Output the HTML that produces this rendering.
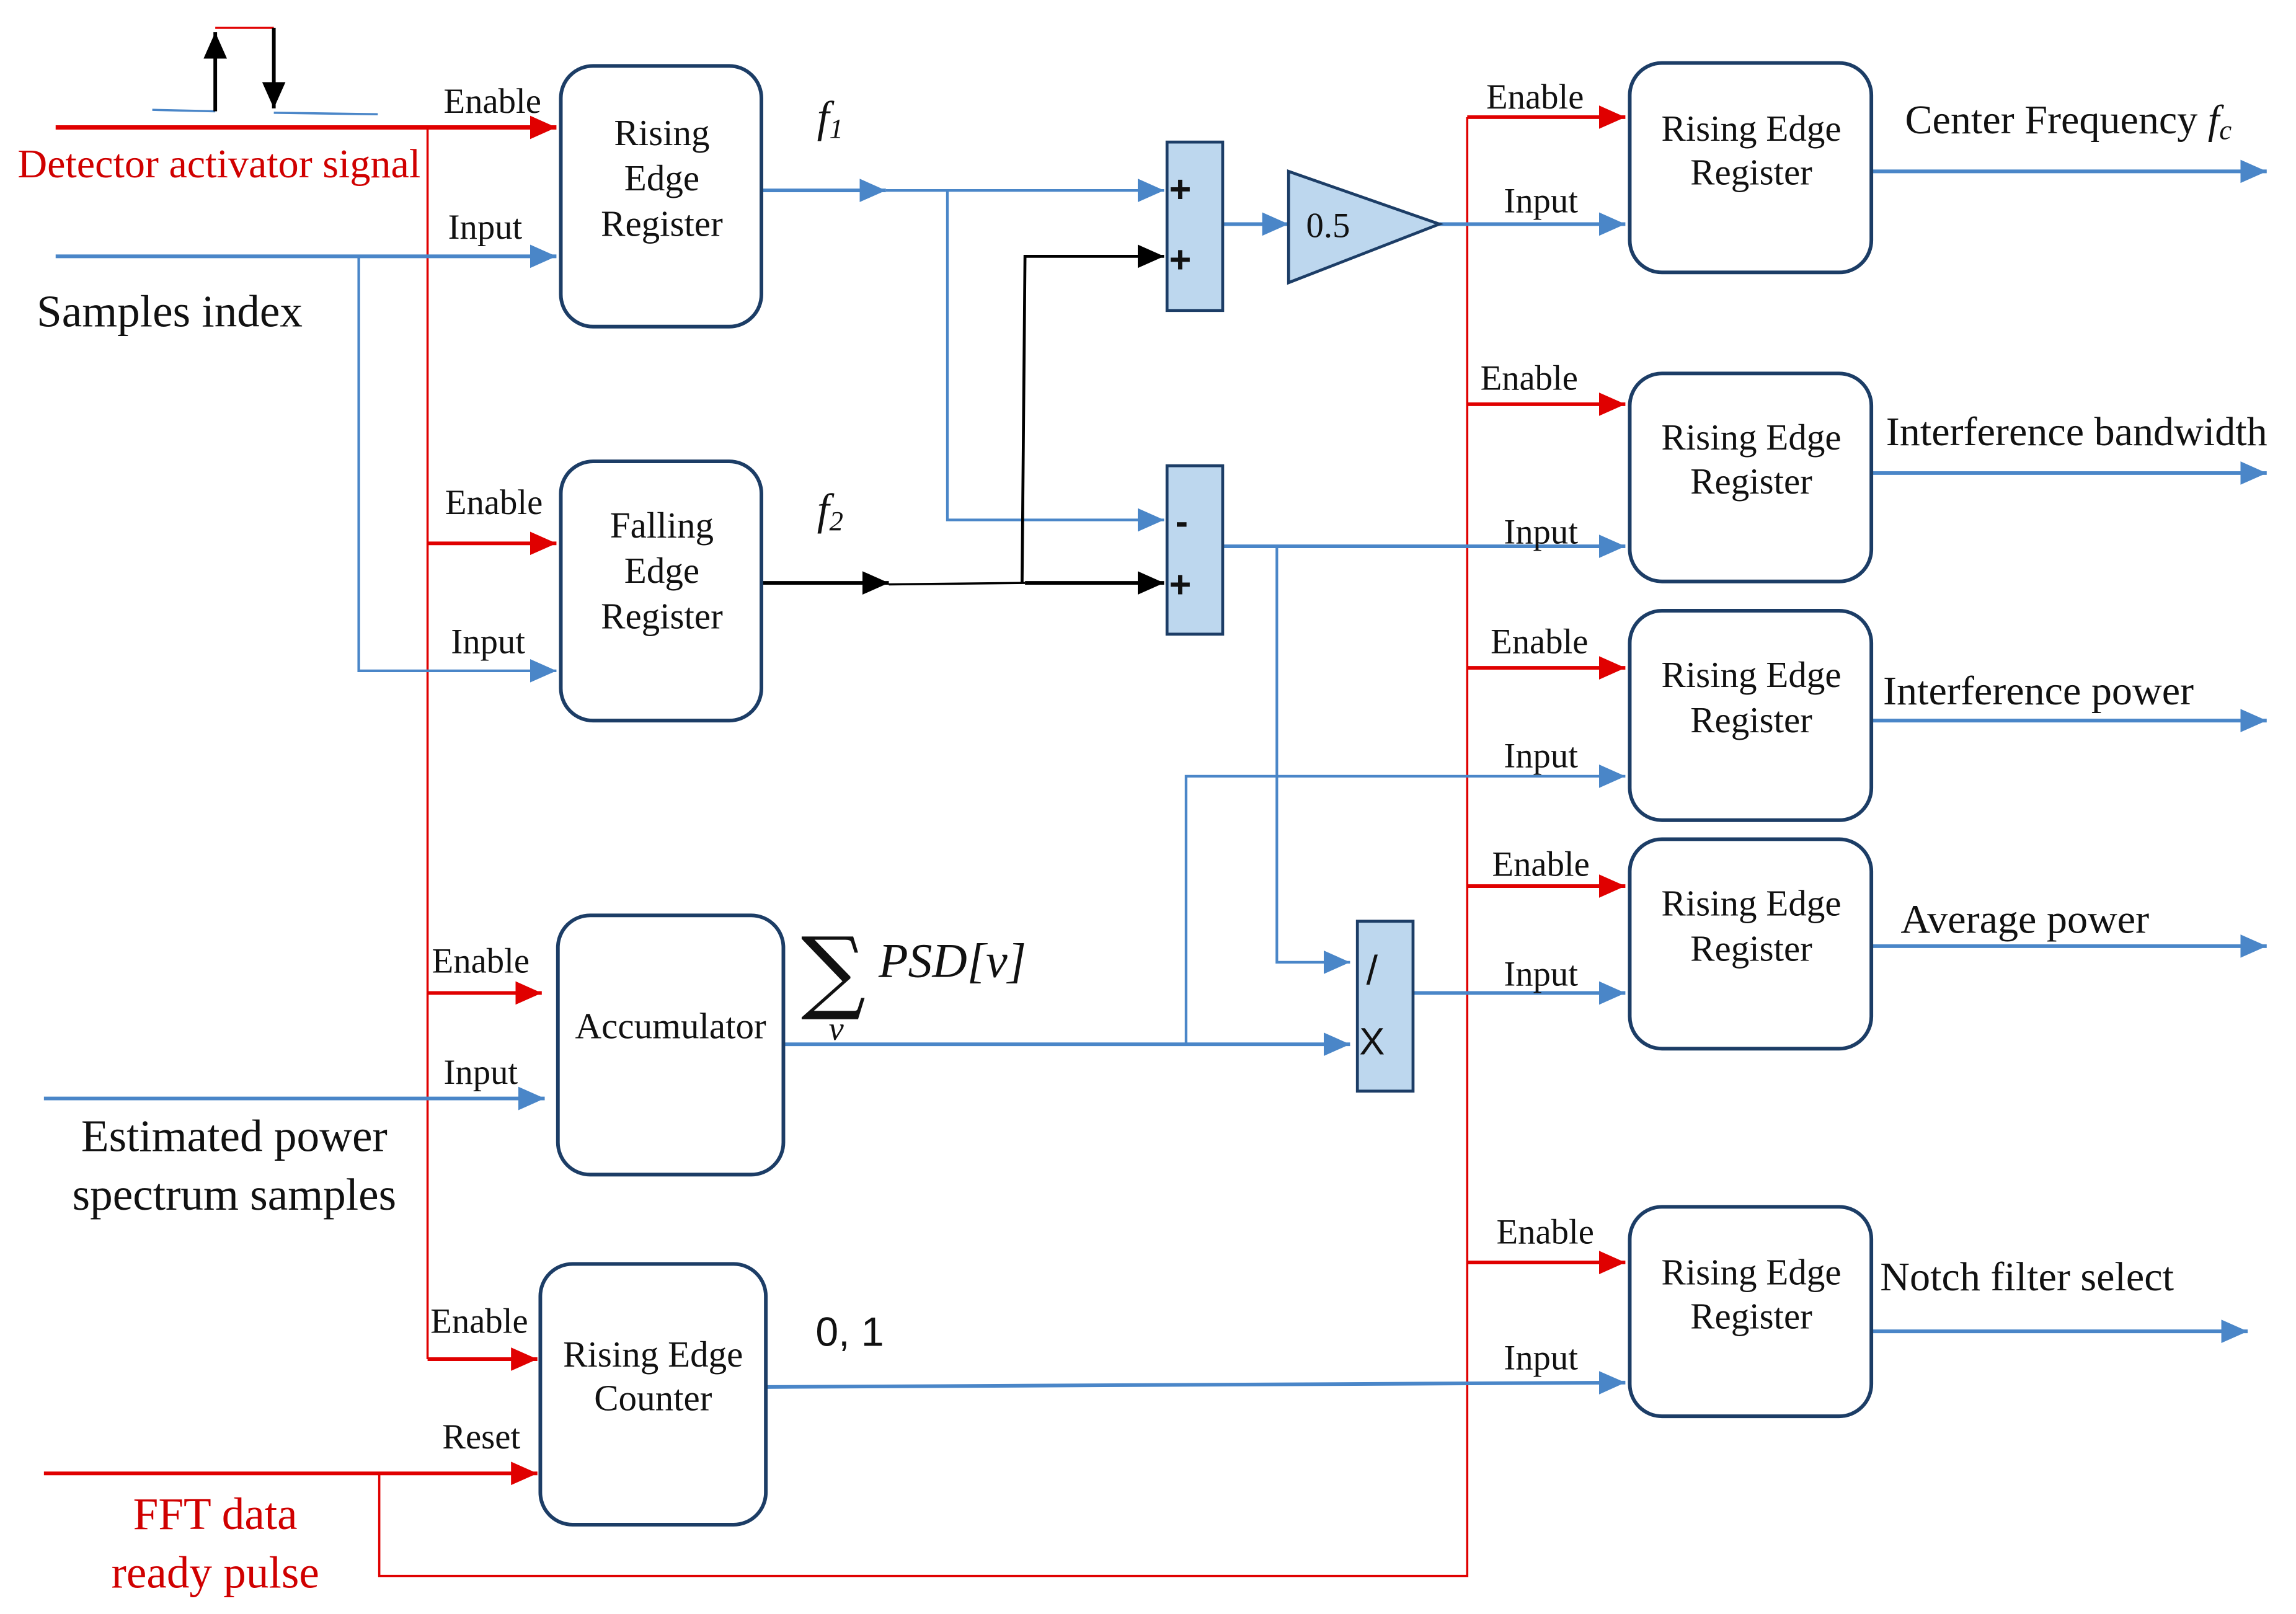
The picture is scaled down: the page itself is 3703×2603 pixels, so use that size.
<!DOCTYPE html>
<html><head><meta charset="utf-8">
<style>
html,body{margin:0;padding:0;background:#fff;}
svg{display:block;}
text{font-family:"Liberation Serif",serif;fill:#111;}
</style></head>
<body>
<svg width="3703" height="2603" viewBox="0 0 1568 1102" preserveAspectRatio="none" xmlns="http://www.w3.org/2000/svg">
<defs>
<marker id="ar" markerUnits="userSpaceOnUse" markerWidth="20" markerHeight="20" refX="18" refY="8" orient="auto"><path d="M0,0 L18,8 L0,16 z" fill="#e00000"/></marker>
<marker id="ab" markerUnits="userSpaceOnUse" markerWidth="20" markerHeight="20" refX="18" refY="8" orient="auto"><path d="M0,0 L18,8 L0,16 z" fill="#4a86c8"/></marker>
<marker id="ak" markerUnits="userSpaceOnUse" markerWidth="20" markerHeight="20" refX="18" refY="8" orient="auto"><path d="M0,0 L18,8 L0,16 z" fill="#000"/></marker>
</defs>
<g fill="none" stroke-linecap="butt">
<path d="M104,75 L147,76" stroke="#4a86c8" stroke-width="1.5"/>
<path d="M187,77 L258,78" stroke="#4a86c8" stroke-width="1.5"/>
<path d="M147,19 L187,19" stroke="#e00000" stroke-width="1.5"/>
<path d="M147,76 L147,22" stroke="#000" stroke-width="2.5" marker-end="url(#ak)"/>
<path d="M187,19 L187,74" stroke="#000" stroke-width="2.5" marker-end="url(#ak)"/>
<path d="M38,87 L380,87" stroke="#e00000" stroke-width="3" marker-end="url(#ar)"/>
<path d="M292,87 L292,928" stroke="#e00000" stroke-width="1.5"/>
<path d="M292,371 L380,371" stroke="#e00000" stroke-width="2.5" marker-end="url(#ar)"/>
<path d="M292,678 L370,678" stroke="#e00000" stroke-width="2.5" marker-end="url(#ar)"/>
<path d="M292,928 L367,928" stroke="#e00000" stroke-width="2.5" marker-end="url(#ar)"/>
<path d="M30,1006 L367,1006" stroke="#e00000" stroke-width="2.5" marker-end="url(#ar)"/>
<path d="M259,1006 L259,1076 L1002,1076 L1002,80" stroke="#e00000" stroke-width="1.5"/>
<path d="M1002,80 L1110,80" stroke="#e00000" stroke-width="2.5" marker-end="url(#ar)"/>
<path d="M1002,276 L1110,276" stroke="#e00000" stroke-width="2.5" marker-end="url(#ar)"/>
<path d="M1002,456 L1110,456" stroke="#e00000" stroke-width="2.5" marker-end="url(#ar)"/>
<path d="M1002,605 L1110,605" stroke="#e00000" stroke-width="2.5" marker-end="url(#ar)"/>
<path d="M1002,862 L1110,862" stroke="#e00000" stroke-width="2.5" marker-end="url(#ar)"/>
<path d="M38,175 L380,175" stroke="#4a86c8" stroke-width="2.5" marker-end="url(#ab)"/>
<path d="M245,175 L245,458 L380,458" stroke="#4a86c8" stroke-width="1.8" marker-end="url(#ab)"/>
<path d="M30,750 L372,750" stroke="#4a86c8" stroke-width="2.5" marker-end="url(#ab)"/>
<path d="M520,130 L605,130" stroke="#4a86c8" stroke-width="2.5" marker-end="url(#ab)"/>
<path d="M605,130 L795,130" stroke="#4a86c8" stroke-width="1.8" marker-end="url(#ab)"/>
<path d="M647,130 L647,355 L795,355" stroke="#4a86c8" stroke-width="1.8" marker-end="url(#ab)"/>
<path d="M520,398 L607,398" stroke="#000" stroke-width="2.5" marker-end="url(#ak)"/>
<path d="M607,399 L700,398" stroke="#000" stroke-width="1.5"/>
<path d="M700,398 L795,398" stroke="#000" stroke-width="2.5" marker-end="url(#ak)"/>
<path d="M698,398 L700,175 L795,175" stroke="#000" stroke-width="2" marker-end="url(#ak)"/>
<path d="M835,153 L880,153" stroke="#4a86c8" stroke-width="2.5" marker-end="url(#ab)"/>
<path d="M983,153 L1110,153" stroke="#4a86c8" stroke-width="2.5" marker-end="url(#ab)"/>
<path d="M835,373 L1110,373" stroke="#4a86c8" stroke-width="2.5" marker-end="url(#ab)"/>
<path d="M872,373 L872,657 L922,657" stroke="#4a86c8" stroke-width="1.8" marker-end="url(#ab)"/>
<path d="M535,713 L922,713" stroke="#4a86c8" stroke-width="2.5" marker-end="url(#ab)"/>
<path d="M810,713 L810,530 L1110,530" stroke="#4a86c8" stroke-width="1.8" marker-end="url(#ab)"/>
<path d="M965,678 L1110,678" stroke="#4a86c8" stroke-width="2.5" marker-end="url(#ab)"/>
<path d="M523,947 L1110,944" stroke="#4a86c8" stroke-width="2.5" marker-end="url(#ab)"/>
<path d="M1278,117 L1548,117" stroke="#4a86c8" stroke-width="2.5" marker-end="url(#ab)"/>
<path d="M1278,323 L1548,323" stroke="#4a86c8" stroke-width="2.5" marker-end="url(#ab)"/>
<path d="M1278,492 L1548,492" stroke="#4a86c8" stroke-width="2.5" marker-end="url(#ab)"/>
<path d="M1278,646 L1548,646" stroke="#4a86c8" stroke-width="2.5" marker-end="url(#ab)"/>
<path d="M1278,909 L1535,909" stroke="#4a86c8" stroke-width="2.5" marker-end="url(#ab)"/>
<g stroke="#1c3d66" stroke-width="2.5" fill="#fff">
<rect x="383" y="45" width="137" height="178" rx="22"/>
<rect x="383" y="315" width="137" height="177" rx="22"/>
<rect x="381" y="625" width="154" height="177" rx="22"/>
<rect x="369" y="863" width="154" height="178" rx="22"/>
<rect x="1113" y="43" width="165" height="143" rx="22"/>
<rect x="1113" y="255" width="165" height="142" rx="22"/>
<rect x="1113" y="417" width="165" height="143" rx="22"/>
<rect x="1113" y="573" width="165" height="143" rx="22"/>
<rect x="1113" y="824" width="165" height="143" rx="22"/>
</g>
<g stroke="#1c3d66" stroke-width="2" fill="#bdd7ee">
<rect x="797" y="97" width="38" height="115"/>
<rect x="797" y="318" width="38" height="115"/>
<rect x="927" y="629" width="38" height="116"/>
<path d="M880,117 L983,153 L880,193 z"/>
</g>
</g>
<g font-size="25" text-anchor="middle">
<text x="452" y="99">Rising</text><text x="452" y="130">Edge</text><text x="452" y="161">Register</text>
<text x="452" y="367">Falling</text><text x="452" y="398">Edge</text><text x="452" y="429">Register</text>
<text x="458" y="709">Accumulator</text>
<text x="446" y="933">Rising Edge</text><text x="446" y="963">Counter</text>
<text x="1196" y="96">Rising Edge</text><text x="1196" y="126">Register</text>
<text x="1196" y="307">Rising Edge</text><text x="1196" y="337">Register</text>
<text x="1196" y="469">Rising Edge</text><text x="1196" y="500">Register</text>
<text x="1196" y="625">Rising Edge</text><text x="1196" y="656">Register</text>
<text x="1196" y="877">Rising Edge</text><text x="1196" y="907">Register</text>
</g>
<g font-size="24">
<text x="303" y="77">Enable</text><text x="306" y="163">Input</text>
<text x="304" y="351">Enable</text><text x="308" y="446">Input</text>
<text x="295" y="664">Enable</text><text x="303" y="740">Input</text>
<text x="294" y="910">Enable</text><text x="302" y="989">Reset</text>
<text x="1015" y="74">Enable</text><text x="1027" y="145">Input</text>
<text x="1011" y="266">Enable</text><text x="1027" y="371">Input</text>
<text x="1018" y="446">Enable</text><text x="1027" y="524">Input</text>
<text x="1019" y="598">Enable</text><text x="1027" y="673">Input</text>
<text x="1022" y="849">Enable</text><text x="1027" y="935">Input</text>
</g>
<g font-size="28">
<text x="12" y="121" style="fill:#d00000">Detector activator signal</text>
<text x="25" y="223" font-size="31">Samples index</text>
<text x="160" y="786" font-size="31" text-anchor="middle">Estimated power</text>
<text x="160" y="826" font-size="31" text-anchor="middle">spectrum samples</text>
<text x="147" y="1044" font-size="31" text-anchor="middle" style="fill:#d00000">FFT data</text>
<text x="147" y="1084" font-size="31" text-anchor="middle" style="fill:#d00000">ready pulse</text>
<text x="1301" y="91">Center Frequency <tspan font-style="italic">f</tspan><tspan font-size="19" font-style="italic" dy="4">c</tspan></text>
<text x="1288" y="304">Interference bandwidth</text>
<text x="1286" y="481">Interference power</text>
<text x="1298" y="637">Average power</text>
<text x="1284" y="881">Notch filter select</text>
<text x="558" y="90" font-style="italic" font-size="30">f<tspan font-size="19" dy="4">1</tspan></text>
<text x="558" y="358" font-style="italic" font-size="30">f<tspan font-size="19" dy="4">2</tspan></text>
<text x="557" y="919" style="font-family:'Liberation Sans',sans-serif">0, 1</text>
<text x="547" y="684" font-size="62" style="font-family:'DejaVu Serif',serif;font-weight:normal">∑</text>
<text x="600" y="667" font-size="33" font-style="italic">PSD[v]</text>
<text x="566" y="710" font-size="23" font-style="italic">v</text>
<text x="892" y="162" font-size="24">0.5</text>
<text x="806" y="138" font-size="26" style="font-family:'Liberation Sans',sans-serif;font-weight:bold" text-anchor="middle">+</text>
<text x="806" y="186" font-size="26" style="font-family:'Liberation Sans',sans-serif;font-weight:bold" text-anchor="middle">+</text>
<text x="807" y="365" font-size="26" style="font-family:'Liberation Sans',sans-serif;font-weight:bold" text-anchor="middle">-</text>
<text x="806" y="408" font-size="26" style="font-family:'Liberation Sans',sans-serif;font-weight:bold" text-anchor="middle">+</text>
<text x="937" y="672" font-size="28" style="font-family:'Liberation Sans',sans-serif" text-anchor="middle">/</text>
<text x="937" y="720" font-size="26" style="font-family:'Liberation Sans',sans-serif" text-anchor="middle">X</text>
</g>
</svg>
</body></html>
